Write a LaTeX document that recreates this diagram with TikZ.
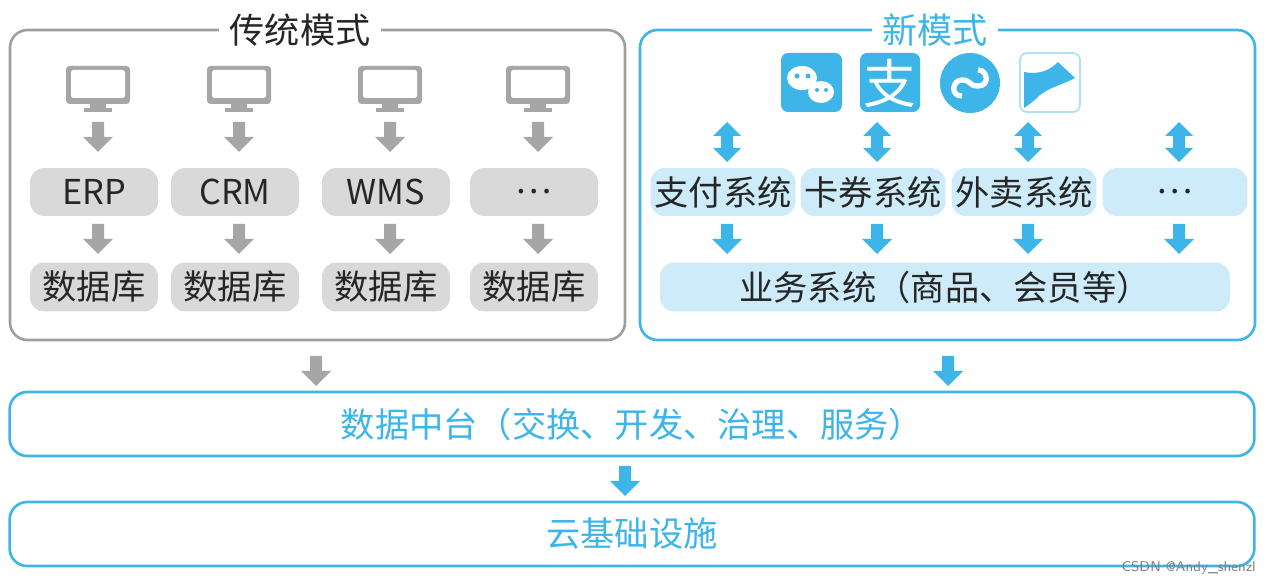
\documentclass[tikz,border=0pt]{standalone}
\usepackage{fontspec}
\setmainfont{Noto Sans CJK SC}
\definecolor{frgray}{HTML}{9E9E9E}
\definecolor{bxgray}{HTML}{D9D9D9}
\definecolor{argray}{HTML}{A6A6A6}
\definecolor{skyblue}{HTML}{3DB5E8}
\definecolor{bxblue}{HTML}{CDEBF8}
\tikzset{
  darr/.pic={\fill (-6,0) -- (6,0) -- (6,15) -- (15,15) -- (0,30) -- (-15,15) -- (-6,15) -- cycle;},
  udarr/.pic={\fill (0,0) -- (14,14) -- (6,14) -- (6,26) -- (14,26) -- (0,40) -- (-14,26) -- (-6,26) -- (-6,14) -- (-14,14) -- cycle;},
  graybox/.style={fill=bxgray,rounded corners=8pt,inner sep=0pt,text=black!85,font=\fontsize{19.5}{22}\selectfont},
  bluebox/.style={fill=bxblue,rounded corners=8pt,inner sep=0pt,text=black!85,font=\fontsize{19.5}{22}\selectfont},
  monitor/.pic={\fill[argray,rounded corners=2pt] (-32,0) rectangle (32,38);
    \fill[white,rounded corners=1pt] (-27,4) rectangle (27,32);
    \fill[argray] (-8,38) rectangle (8,44); \fill[argray] (-14,42) rectangle (14,46);}
}
\begin{document}
\begin{tikzpicture}[x=0.02cm,y=-0.02cm]
\useasboundingbox (0,0) rectangle (1275,587);
% ------ frames ------
\draw[frgray,line width=1.5pt,rounded corners=10pt] (10,30) rectangle (625,340);
\node[fill=white,font=\fontsize{20}{22}\selectfont,text=black!85,inner xsep=6pt] (old) at (300,30) {传统模式};
\draw[skyblue,line width=1.5pt,rounded corners=10pt] (640,30) rectangle (1255,340);
\node[fill=white,font=\fontsize{20}{22}\selectfont,text=skyblue,inner xsep=6pt] (new) at (935,30) {新模式};
% ------ left column ------
\foreach \x/\t [count=\i] in {94/ERP,235/CRM,386/WMS,534/\dots}{
  \pic at (\x+4,66) {monitor};
  \pic[argray] at (\x+4,122) {darr};
  \node[graybox,minimum width=2.56cm,minimum height=0.96cm] (sys\i) at (\x,192) {\t};
  \pic[argray] at (\x+4,224) {darr};
  \node[graybox,minimum width=2.56cm,minimum height=0.98cm] (db\i) at (\x,287) {数据库};
}
% ------ icons ------
\fill[skyblue,rounded corners=4pt] (781,53) rectangle (842,112);
\fill[white] (802,78) ellipse (15 and 12);
\fill[white] (821,92) ellipse (13 and 11);
\fill[skyblue] (797,76) circle (2.5) (808,76) circle (2.5) (817,90) circle (2) (826,90) circle (2);
\fill[skyblue,rounded corners=4pt] (860,53) rectangle (920,112);
\node[text=white,font=\fontsize{30}{30}\selectfont] (alipay) at (890,83) {支};
\fill[skyblue] (970,83) circle (30);
\draw[white,line width=3pt] (962,96) .. controls (950,96) and (952,80) .. (962,80) .. controls (972,80) and (968,86) .. (978,86) .. controls (990,86) and (988,70) .. (978,70);
\draw[skyblue!40,line width=1pt,rounded corners=4pt] (1020,53) rectangle (1080,112);
\fill[skyblue] (1024,72) .. controls (1040,75) and (1050,70) .. (1058,62) -- (1075,78) .. controls (1060,86) and (1045,88) .. (1035,100) -- (1024,108) -- cycle;
% ------ right column ------
\foreach \x/\t [count=\i] in {723/支付系统,873/卡券系统,1024/外卖系统,1175/\dots}{
  \pic[skyblue] at (\x+4,122) {udarr};
  \node[bluebox,minimum width=2.9cm,minimum height=0.96cm] (app\i) at (\x,192) {\t};
  \pic[skyblue] at (\x+4,224) {darr};
}
\node[bluebox,minimum width=11.4cm,minimum height=0.98cm] (biz) at (945,287) {业务系统（商品、会员等）};
% ------ bottom ------
\pic[argray] at (316,356) {darr};
\pic[skyblue] at (948,356) {darr};
\node[draw=skyblue,line width=1.5pt,rounded corners=10pt,minimum width=24.9cm,minimum height=1.28cm,text=skyblue,font=\fontsize{19.5}{22}\selectfont] (mid) at (632,424) {数据中台（交换、开发、治理、服务）};
\pic[skyblue] at (625,466) {darr};
\node[draw=skyblue,line width=1.5pt,rounded corners=10pt,minimum width=24.9cm,minimum height=1.28cm,text=skyblue,font=\fontsize{19.5}{22}\selectfont] (cloud) at (632,534) {云基础设施};
\node[text=gray,font=\fontsize{8}{9}\selectfont\sffamily,anchor=east] (mark) at (1262,568) {CSDN @Andy\_shenzl};
\end{tikzpicture}
\end{document}
